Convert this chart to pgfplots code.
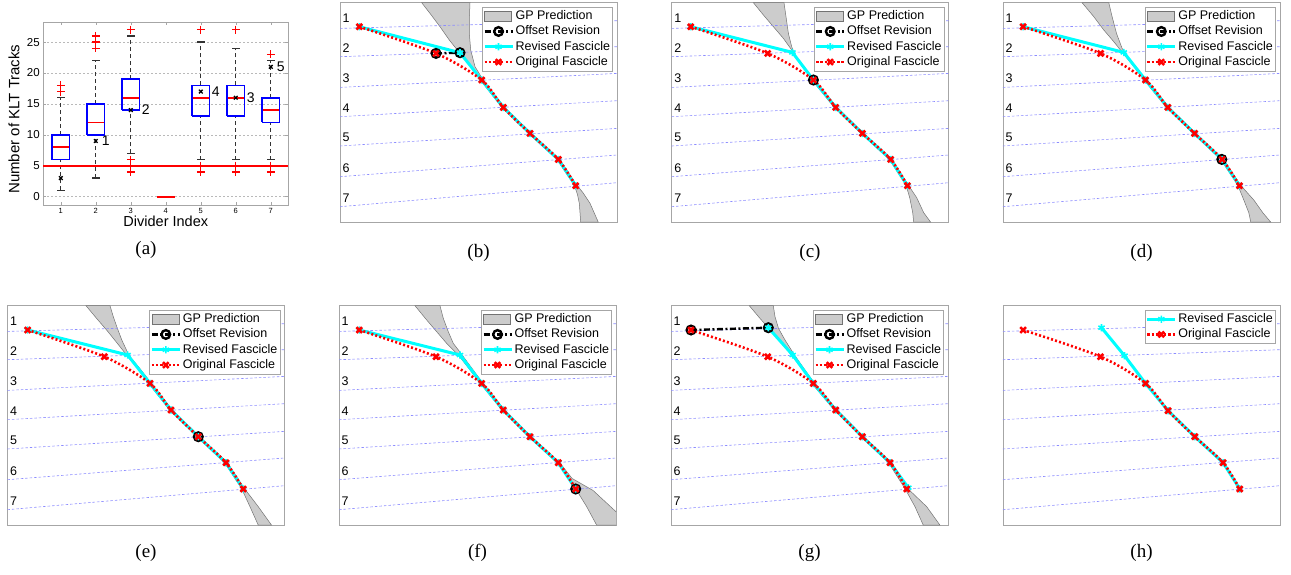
\documentclass[border=0pt]{standalone}
\usepackage{fontspec}
\setmainfont{Liberation Sans}
\newfontfamily\capfont{Liberation Serif}
\usepackage{pgfplots}
\pgfplotsset{compat=1.18}
\newcommand{\fs}[1]{\fontsize{#1}{#1}\selectfont}
\definecolor{mcyan}{rgb}{0,1,1}
\definecolor{mred}{rgb}{1,0,0}
\definecolor{mblue}{rgb}{0,0,1}
\definecolor{gline}{rgb}{0.55,0.55,1}

\tikzset{dig/.style={font=\fs{12.5}, inner sep=0pt}}
\pgfplotsset{
 fasc/.style={scale only axis, width=277pt, height=219.5pt, xmin=0, xmax=277, ymin=-219.5, ymax=0,
   ticks=none, axis line style={draw=gray!70, line width=0.6pt}, unbounded coords=jump, clip=true,
   legend cell align=left,
   legend style={at={(1,1)}, anchor=north east, xshift=-4.3pt, yshift=-4.6pt, draw=gray!70, fill=white,
     font=\fs{12.5}, inner xsep=1pt, inner ysep=1pt, row sep=0pt,
     nodes={inner xsep=1.5pt, inner ysep=1.9pt, text height=9pt, text depth=2.5pt}}},
 linelegend/.style={legend image code/.code={\draw[mark repeat=2,mark phase=2,##1] plot coordinates {(0pt,0pt) (14pt,0pt) (28pt,0pt)};}},
 gp/.style={fill=black!20, draw=black!55, line width=0.5pt,
   legend image code/.code={\draw[##1] (0pt,-5pt) rectangle (27pt,5pt);}},
 offs/.style={black, line width=2.4pt, dash pattern=on 6pt off 2.5pt on 2pt off 2.5pt, mark=o, mark size=4.3pt,
   mark options={solid, line width=2.4pt}, linelegend},
 rev/.style={mcyan, line width=3pt, mark=asterisk, mark size=3.6pt, mark options={solid, line width=1.6pt}, linelegend},
 orig/.style={mred, line width=2.6pt, dash pattern=on 2pt off 2.2pt, smooth, mark=x, mark size=4pt,
   mark options={solid, line width=2.6pt}, linelegend},
 guide/.style={gline, line width=0.6pt, dash pattern=on 2.5pt off 2pt, forget plot},
}

\newcommand{\guides}{\addplot[guide] coordinates {(0,-25.7) (277,-18) (nan,nan) (0,-54) (277,-44) (nan,nan)
 (0,-84.7) (277,-70.7) (nan,nan) (0,-114) (277,-98) (nan,nan) (0,-143.3) (277,-125.7) (nan,nan)
 (0,-174) (277,-152.3) (nan,nan) (0,-204) (277,-180)};}
\newcommand{\digits}{%
 \node[dig] at (axis cs:6.2,-15.7) {1};
 \node[dig] at (axis cs:6.2,-45.7) {2};
 \node[dig] at (axis cs:6.2,-75.7) {3};
 \node[dig] at (axis cs:6.2,-105.7) {4};
 \node[dig] at (axis cs:6.2,-135) {5};
 \node[dig] at (axis cs:6.2,-165) {6};
 \node[dig] at (axis cs:6.2,-195) {7};}

\begin{document}
\begin{tikzpicture}
\useasboundingbox (0,0) rectangle (1291pt,-574pt);

% ---------------- (a)
\begin{axis}[at={(43.3pt,-22.3pt)}, anchor=north west, scale only axis, width=245pt, height=182.7pt,
  xmin=0.5, xmax=7.5, ymin=-1.35, ymax=28.2, xtick={1,2,3,4,5,6,7}, ytick={0,5,10,15,20,25},
  ymajorgrids, grid style={gray!55, dash pattern=on 2pt off 2pt, line width=0.5pt},
  axis line style={gray!70}, tick style={gray!70, line width=0.5pt}, major tick length=3pt,
  /pgf/number format/assume math mode=true, unbounded coords=jump,
  yticklabel style={font=\fs{11.5}}, xticklabel style={font=\fs{7.5}},
  xlabel={Divider Index}, ylabel={Number of KLT Tracks},
  xlabel style={font=\fs{14.5}, at={(axis description cs:0.5,-0.091)}, anchor=center},
  ylabel style={font=\fs{15}, at={(axis description cs:-0.12,0.47)}, anchor=center},
  clip=false]
% whiskers
\addplot[black!80, line width=1.4pt, dash pattern=on 4pt off 3pt] coordinates {
 (1,1)(1,6) (nan,nan) (1,10)(1,16) (nan,nan)
 (2,3)(2,10) (nan,nan) (2,15)(2,22) (nan,nan)
 (3,7)(3,14) (nan,nan) (3,19)(3,26) (nan,nan)
 (5,6)(5,13) (nan,nan) (5,18)(5,25) (nan,nan)
 (6,6)(6,13) (nan,nan) (6,18)(6,24) (nan,nan)
 (7,6)(7,12) (nan,nan) (7,16)(7,22)};
% boxes
\addplot[mblue, line width=1.6pt] coordinates {
 (0.75,6)(1.25,6)(1.25,10)(0.75,10)(0.75,6) (nan,nan)
 (1.75,10)(2.25,10)(2.25,15)(1.75,15)(1.75,10) (nan,nan)
 (2.75,14)(3.25,14)(3.25,19)(2.75,19)(2.75,14) (nan,nan)
 (4.75,13)(5.25,13)(5.25,18)(4.75,18)(4.75,13) (nan,nan)
 (5.75,13)(6.25,13)(6.25,18)(5.75,18)(5.75,13) (nan,nan)
 (6.75,12)(7.25,12)(7.25,16)(6.75,16)(6.75,12)};
% medians
\addplot[mred, line width=1.8pt] coordinates {
 (0.77,8)(1.23,8) (nan,nan) (1.77,12)(2.23,12) (nan,nan) (2.77,16)(3.23,16) (nan,nan)
 (3.75,0)(4.25,0) (nan,nan) (4.77,16)(5.23,16) (nan,nan) (5.77,16)(6.23,16) (nan,nan) (6.77,14)(7.23,14)};
% caps
\addplot[black!80, only marks, mark=-, mark size=4pt, mark options={line width=1.3pt}] coordinates {(1,1)(1,16)(2,3)(2,22)(3,7)(3,26)(5,6)(5,25)(6,6)(6,24)(7,6)(7,22)};
% threshold
\addplot[mred, line width=1.8pt] coordinates {(0.5,5) (7.5,5)};
% outliers
\addplot[mred, only marks, mark=+, mark size=4pt, mark options={line width=1.3pt}] coordinates {(1,17)(1,18)(2,24)(2,25)(2,26)(3,27)(3,6)(3,5)(3,4)(5,27)(5,5)(5,4)(6,27)(6,5)(6,4)(7,23)(7,5)(7,4)};
% selected
\addplot[black, only marks, mark=x, mark size=2.6pt, mark options={line width=1.3pt}] coordinates {(1,3)(2,9)(3,14)(5,17)(6,16)(7,21)};
\node[anchor=west, font=\fs{14}, inner sep=0pt] at (axis cs:2.17,9) {1};
\node[anchor=west, font=\fs{14}, inner sep=0pt] at (axis cs:3.31,14) {2};
\node[anchor=west, font=\fs{14}, inner sep=0pt] at (axis cs:5.31,17) {4};
\node[anchor=west, font=\fs{14}, inner sep=0pt] at (axis cs:6.31,16) {3};
\node[anchor=west, font=\fs{14}, inner sep=0pt] at (axis cs:7.17,21) {5};
\end{axis}

% ---------------- (b)
\begin{axis}[fasc, at={(340pt,-2.7pt)}, anchor=north west,
  legend entries={GP Prediction, Offset Revision, Revised Fascicle, Original Fascicle}]
\addplot[gp] coordinates {(81.7,0) (90,-10.7) (100,-24) (109.3,-37.3) (120,-50.7) (131.7,-64) (140.2,-77.3) (161.8,-104.7) (188.5,-130.7) (216.8,-156.7) (234.5,-183) (237.5,-192) (239.3,-200.6) (240.7,-219.5) (258.3,-219.5) (250,-200.6) (243,-190) (237.2,-183) (219.8,-156.7) (191.5,-130.7) (164.8,-104.7) (143.2,-77.3) (135,-64) (130.7,-47.3) (129.3,-30.7) (129.3,-17.3) (130,0)} -- cycle;
\guides
\addplot[offs] coordinates {(96,-50.7) (120,-50)};
\addplot[rev] coordinates {(19.3,-24) (120,-50) (141.7,-77.3) (163.3,-104.7) (190,-130.7) (218.3,-156.7) (235.7,-183)};
\addplot[orig] coordinates {(19.3,-24) (96,-50.7) (141.7,-77.3) (163.3,-104.7) (190,-130.7) (218.3,-156.7) (235.7,-183)};
\digits
\end{axis}

% ---------------- (c)
\begin{axis}[fasc, at={(671.7pt,-2.7pt)}, anchor=north west,
  legend entries={GP Prediction, Offset Revision, Revised Fascicle, Original Fascicle}]
\addplot[gp] coordinates {(81.7,0) (91.7,-12.3) (101.7,-24) (111.7,-35.7) (120,-47.3) (130,-62.3) (140.2,-77.3) (162.5,-104.7) (189.2,-130.7) (217.5,-156.7) (234.5,-183) (238,-195) (241,-210) (242,-219.5) (259,-219.5) (252,-210) (245,-195) (237,-183) (220.5,-156.7) (192.2,-130.7) (165.5,-104.7) (143.2,-77.3) (131.7,-65.7) (123.3,-52.3) (120,-44) (116.7,-30.7) (114.3,-14) (112.3,0)} -- cycle;
\guides
\addplot[offs] coordinates {(141.7,-77.3)};
\addplot[rev] coordinates {(19,-24) (120.7,-49.7) (141.7,-77.3) (164,-104.7) (190.7,-130.7) (219,-156.7) (235.7,-183)};
\addplot[orig] coordinates {(19,-24) (96,-50.7) (141.7,-77.3) (164,-104.7) (190.7,-130.7) (219,-156.7) (235.7,-183)};
\digits
\end{axis}

% ---------------- (d)
\begin{axis}[fasc, at={(1002.8pt,-2.7pt)}, anchor=north west,
  legend entries={GP Prediction, Offset Revision, Revised Fascicle, Original Fascicle}]
\addplot[gp] coordinates {(79.3,0) (91,-14) (101,-27.3) (111,-39) (120.3,-50.7) (131,-64) (141.2,-77.3) (163.5,-104.7) (190.2,-130.7) (217.8,-156.7) (235.2,-183) (241,-197.3) (246,-210) (248,-219.5) (268,-219.5) (260,-210) (251,-197.3) (238.2,-183) (220.8,-156.7) (193.2,-130.7) (166.5,-104.7) (144.2,-77.3) (134.3,-67.3) (124.3,-54) (121.7,-49) (119.3,-45.7) (113.7,-30.7) (109.3,-14) (106,0)} -- cycle;
\guides
\addplot[offs] coordinates {(219,-156.7)};
\addplot[rev] coordinates {(20.3,-24) (121,-49.7) (142.7,-77.3) (165,-104.7) (191.7,-130.7) (219.3,-156.7) (236.7,-183)};
\addplot[orig] coordinates {(20.3,-24) (97.7,-50.7) (142.7,-77.3) (165,-104.7) (191.7,-130.7) (219.3,-156.7) (236.7,-183)};
\digits
\end{axis}

% ---------------- (e)
\begin{axis}[fasc, at={(7.3pt,-305.7pt)}, anchor=north west,
  legend entries={GP Prediction, Offset Revision, Revised Fascicle, Original Fascicle}]
\addplot[gp] coordinates {(78.7,0) (89.3,-12.7) (99.3,-24.3) (109.3,-36.7) (119.3,-49.3) (131,-62.7) (141.2,-77.7) (162.2,-104.3) (189.5,-131) (217.2,-157) (234.5,-183.3) (242.7,-201) (251,-219.5) (264.3,-219.5) (251,-201) (237.5,-183.3) (220.2,-157) (192.5,-131) (165.2,-104.3) (144.2,-77.7) (132.5,-62.7) (121.5,-49.3) (114.5,-34.3) (109.5,-21) (106,-11) (102.7,0)} -- cycle;
\guides
\addplot[offs] coordinates {(191,-131)};
\addplot[rev] coordinates {(20.3,-24.3) (120.3,-49.3) (142.7,-77.7) (163.7,-104.3) (191,-131) (218.7,-157) (236,-183.3)};
\addplot[orig] coordinates {(20.3,-24.3) (97,-51) (142.7,-77.7) (163.7,-104.3) (191,-131) (218.7,-157) (236,-183.3)};
\digits
\end{axis}

% ---------------- (f)
\begin{axis}[fasc, at={(339pt,-305.7pt)}, anchor=north west,
  legend entries={GP Prediction, Offset Revision, Revised Fascicle, Original Fascicle}]
\addplot[gp] coordinates {(76,0) (87.7,-14.3) (97.7,-26) (107.7,-37.7) (119.3,-49.3) (131,-64.3) (141.2,-77.7) (162.8,-104.3) (189.5,-131) (217.8,-157) (230,-172.7) (237.7,-184.7) (247.7,-201) (257.7,-219.5) (300,-219.5) (300,-225) (277,-206) (254,-184.7) (233,-172.7) (220.8,-157) (192.5,-131) (165.8,-104.3) (144.2,-77.7) (133,-62.7) (122,-47.7) (114.3,-37.7) (109.3,-26) (104.3,-12.7) (101,0)} -- cycle;
\guides
\addplot[offs] coordinates {(236.7,-183.3)};
\addplot[rev] coordinates {(20.3,-24.3) (121,-49.3) (142.7,-77.7) (164.3,-104.3) (191,-131) (219.3,-157) (236.7,-183.3)};
\addplot[orig] coordinates {(20.3,-24.3) (97,-51) (142.7,-77.7) (164.3,-104.3) (191,-131) (219.3,-157) (236.7,-183.3)};
\digits
\end{axis}

% ---------------- (g)
\begin{axis}[fasc, at={(671pt,-305.7pt)}, anchor=north west,
  legend entries={GP Prediction, Offset Revision, Revised Fascicle, Original Fascicle}]
\addplot[gp] coordinates {(78.3,0) (89,-12.7) (97.3,-22) (109,-36) (120.5,-49.3) (132.3,-64.3) (140.8,-77.7) (163.2,-104.3) (189.8,-131) (217.5,-157) (234.2,-183.3) (244,-201) (252.3,-219.5) (269,-219.5) (255.7,-201) (237.2,-183.3) (220.5,-157) (192.8,-131) (166.2,-104.3) (143.8,-77.7) (134,-64.3) (123.5,-49.3) (114,-34.3) (107.5,-22.7) (104,-11) (102.3,0)} -- cycle;
\guides
\addplot[offs] coordinates {(20,-24.3) (97.3,-22)};
\addplot[rev] coordinates {(97.3,-22) (121.7,-49.3) (142.3,-77.7) (164.7,-104.3) (191.3,-131) (219,-157) (237.3,-182)};
\addplot[orig] coordinates {(20,-24.3) (96.7,-51) (142.3,-77.7) (164.7,-104.3) (191.3,-131) (219,-157) (235.7,-183.3)};
\digits
\end{axis}

% ---------------- (h)
\begin{axis}[fasc, at={(1002.8pt,-305.7pt)}, anchor=north west,
  legend entries={Revised Fascicle, Original Fascicle}]
\guides
\addplot[rev] coordinates {(98.7,-22) (121.7,-50) (142.7,-77.7) (165.3,-105) (192,-131) (220.3,-157) (237,-183.3)};
\addplot[orig] coordinates {(20.3,-24.3) (97.7,-51) (142.7,-77.7) (165.3,-105) (192,-131) (220.3,-157) (237,-183.3)};
\end{axis}

% captions
\node[font=\capfont\fs{19}] at (146pt,-250pt) {(a)};
\node[font=\capfont\fs{19}] at (478.5pt,-253pt) {(b)};
\node[font=\capfont\fs{19}] at (810pt,-253pt) {(c)};
\node[font=\capfont\fs{19}] at (1141.5pt,-253pt) {(d)};
\node[font=\capfont\fs{19}] at (146pt,-553pt) {(e)};
\node[font=\capfont\fs{19}] at (477.5pt,-553pt) {(f)};
\node[font=\capfont\fs{19}] at (809.5pt,-553pt) {(g)};
\node[font=\capfont\fs{19}] at (1141.5pt,-553pt) {(h)};
\end{tikzpicture}
\end{document}
